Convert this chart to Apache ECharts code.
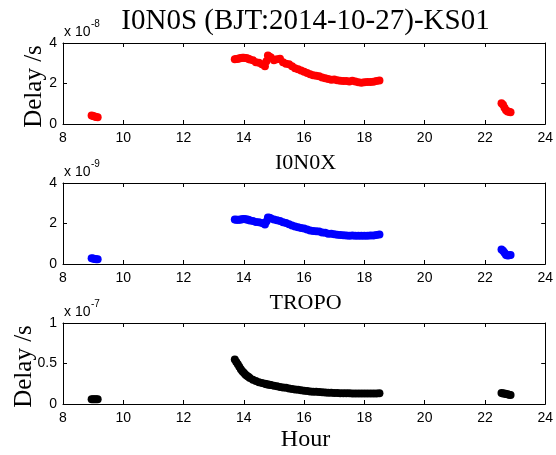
<!DOCTYPE html>
<html>
<head>
<meta charset="utf-8">
<title>I0N0S (BJT:2014-10-27)-KS01</title>
<script src="https://cdn.jsdelivr.net/npm/echarts@6/dist/echarts.min.js"></script>
<style>
  html, body { margin: 0; padding: 0; background: #fff; }
  #chart { width: 556px; height: 455px; }
</style>
</head>
<body>
<div id="chart"></div>
<script>
// Observation epochs (hour of day, BJT)
const hours = [
  8.95, 9.0, 9.05, 9.1, 9.15,
  13.7, 13.75, 13.8, 13.85, 13.9, 13.95, 14.0, 14.05, 14.1, 14.15,
  14.2, 14.3, 14.4, 14.5, 14.6, 14.7, 14.75, 14.8, 14.85, 14.9,
  15.0, 15.1, 15.2, 15.3, 15.4, 15.5, 15.6,
  15.7, 15.8, 15.9, 16.0, 16.1, 16.2, 16.3, 16.4, 16.5, 16.6,
  16.7, 16.8, 16.9, 17.0, 17.1, 17.2, 17.3, 17.4, 17.5, 17.6,
  17.7, 17.8, 17.9, 18.0, 18.1, 18.2, 18.3, 18.4, 18.5,
  22.55, 22.6, 22.65, 22.7, 22.75, 22.8, 22.85
];

// Ionospheric delay, S band, in units of 1e-8 s
const ionoS = [
  0.42, 0.40, 0.37, 0.34, 0.33,
  3.20, 3.21, 3.22, 3.24, 3.26, 3.27, 3.27, 3.26, 3.25, 3.22,
  3.18, 3.15, 3.05, 3.02, 2.95, 2.85, 3.10, 3.38, 3.32, 3.28,
  3.15, 3.20, 3.22, 3.05, 2.98, 2.95, 2.85,
  2.75, 2.70, 2.64, 2.58, 2.52, 2.46, 2.41, 2.38, 2.36, 2.30,
  2.26, 2.22, 2.18, 2.20, 2.16, 2.14, 2.12, 2.12, 2.10, 2.13,
  2.10, 2.06, 2.04, 2.06, 2.07, 2.08, 2.09, 2.12, 2.15,
  1.02, 0.95, 0.80, 0.68, 0.62, 0.60, 0.58
];

// Ionospheric delay, X band, in units of 1e-9 s
const ionoX = [
  0.28, 0.27, 0.25, 0.24, 0.23,
  2.20, 2.19, 2.18, 2.19, 2.20, 2.21, 2.22, 2.21, 2.20, 2.18,
  2.15, 2.12, 2.08, 2.06, 2.02, 1.95, 2.10, 2.30, 2.28, 2.25,
  2.20, 2.16, 2.12, 2.06, 2.02, 1.96, 1.90,
  1.85, 1.82, 1.78, 1.75, 1.70, 1.66, 1.63, 1.62, 1.60, 1.56,
  1.54, 1.50, 1.49, 1.47, 1.45, 1.43, 1.42, 1.41, 1.40, 1.41,
  1.40, 1.39, 1.39, 1.40, 1.40, 1.41, 1.41, 1.43, 1.46,
  0.72, 0.65, 0.55, 0.45, 0.42, 0.43, 0.45
];

// Tropospheric delay, in units of 1e-7 s
const tropo = [
  0.06, 0.06, 0.06, 0.06, 0.06,
  0.55, 0.52, 0.49, 0.46, 0.43, 0.405, 0.385, 0.365, 0.35, 0.335,
  0.32, 0.30, 0.285, 0.27, 0.26, 0.25, 0.245, 0.24, 0.238, 0.235,
  0.225, 0.22, 0.21, 0.205, 0.20, 0.19, 0.185,
  0.18, 0.175, 0.17, 0.165, 0.16, 0.155, 0.152, 0.15, 0.147, 0.145,
  0.142, 0.14, 0.138, 0.136, 0.135, 0.134, 0.133, 0.132, 0.132, 0.131,
  0.131, 0.13, 0.13, 0.13, 0.13, 0.13, 0.13, 0.131, 0.132,
  0.135, 0.13, 0.13, 0.125, 0.12, 0.115, 0.11
];

const panelTitles = ['I0N0S (BJT:2014-10-27)-KS01', 'I0N0X', 'TROPO'];
const exponents = ['-8', '-9', '-7'];
const yTicks = [[0, 2, 4], [0, 2, 4], [0, 0.5, 1]];
const xTicks = [8, 10, 12, 14, 16, 18, 20, 22, 24];
const colors = ['#ff0000', '#0000ff', '#000000'];
const panelValues = [ionoS, ionoX, tropo];

const plotLeft = 63, plotWidth = 485, plotHeight = 81;
const plotTops = [43, 183, 323];
const serif = '"Liberation Serif", "Times New Roman", serif';
const sans = '"Liberation Sans", Arial, sans-serif';

const grids = [], xAxes = [], yAxes = [], series = [], graphics = [];

function text(x, y, str, font, align, extra) {
  return Object.assign({
    type: 'text', x: x, y: y,
    style: {
      text: str, fill: '#000', font: font,
      align: align, verticalAlign: 'middle', textAlign: align, textVerticalAlign: 'middle'
    }
  }, extra || {});
}

plotTops.forEach((top, i) => {
  grids.push({ left: plotLeft, top: top, width: plotWidth, height: plotHeight, containLabel: false });
  const xMin = xTicks[0], xMax = xTicks[xTicks.length - 1];
  const yMin = yTicks[i][0], yMax = yTicks[i][yTicks[i].length - 1];
  const yStep = yTicks[i][1] - yTicks[i][0];
  const lineStyle = { color: '#000', width: 1 };
  const tick = { show: true, inside: true, length: 4, lineStyle: { color: '#000' } };
  // bottom and top x axes (top one only mirrors the ticks)
  xAxes.push({
    type: 'value', gridIndex: i, position: 'bottom', min: xMin, max: xMax, interval: 2,
    axisLine: { show: true, onZero: false, lineStyle }, axisTick: tick,
    splitLine: { show: false },
    axisLabel: { color: '#000', fontFamily: sans, fontSize: 14, margin: 7 }
  });
  xAxes.push({
    type: 'value', gridIndex: i, position: 'top', min: xMin, max: xMax, interval: 2,
    axisLine: { show: true, onZero: false, lineStyle }, axisTick: tick,
    splitLine: { show: false }, axisLabel: { show: false }
  });
  yAxes.push({
    type: 'value', gridIndex: i, position: 'left', min: yMin, max: yMax, interval: yStep,
    axisLine: { show: true, onZero: false, lineStyle }, axisTick: tick,
    splitLine: { show: false },
    axisLabel: { color: '#000', fontFamily: sans, fontSize: 14, margin: 6 }
  });
  yAxes.push({
    type: 'value', gridIndex: i, position: 'right', min: yMin, max: yMax, interval: yStep,
    axisLine: { show: true, onZero: false, lineStyle }, axisTick: tick,
    splitLine: { show: false }, axisLabel: { show: false }
  });
  series.push({
    type: 'scatter', xAxisIndex: i * 2, yAxisIndex: i * 2,
    symbol: 'circle', symbolSize: 8,
    itemStyle: { color: colors[i], opacity: 1 },
    emphasis: { disabled: true },
    data: hours.map((h, k) => [h, panelValues[i][k]])
  });

  // panel title
  graphics.push(text(plotLeft + plotWidth / 2, i === 0 ? 21 : top - 20, panelTitles[i],
    (i === 0 ? '29px ' : '22px ') + serif, 'center'));
  // axis multiplier  x 10^n
  graphics.push(text(plotLeft + 1, top - 11, 'x 10', '14px ' + sans, 'left'));
  graphics.push(text(plotLeft + 28, top - 19, exponents[i], '10px ' + sans, 'left'));
});

// y axis names on first and last panels
graphics.push(text(34, plotTops[0] + plotHeight / 2 + 3, 'Delay /s', '25px ' + serif, 'center',
  { rotation: Math.PI / 2 }));
graphics.push(text(24, plotTops[2] + plotHeight / 2 + 3, 'Delay /s', '25px ' + serif, 'center',
  { rotation: Math.PI / 2 }));

// x axis name
graphics.push(text(plotLeft + plotWidth / 2, 440, 'Hour', '24px ' + serif, 'center'));

const chart = echarts.init(document.getElementById('chart'), null, { renderer: 'canvas' });
chart.setOption({
  backgroundColor: '#fff',
  animation: false,
  grid: grids,
  xAxis: xAxes,
  yAxis: yAxes,
  series: series,
  graphic: graphics
});
</script>
</body>
</html>
